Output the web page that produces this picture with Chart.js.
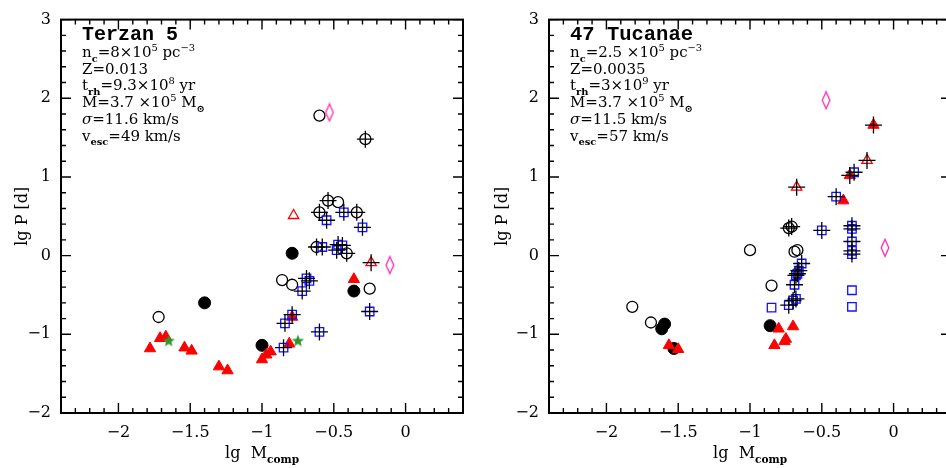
<!DOCTYPE html>
<html>
<head>
<meta charset="utf-8">
<script src="https://cdn.jsdelivr.net/npm/chart.js@4.4.1/dist/chart.umd.min.js"></script>
<style>
    html, body { margin: 0; padding: 0; background: #fff; overflow: hidden; width: 946px; height: 468px; }
    #left { position: absolute; left: 0; top: 0; }
    #right { position: absolute; left: 473px; top: 0; }
</style>
</head>
<body>
<canvas id="left" width="473" height="468"></canvas>
<canvas id="right" width="490" height="468"></canvas>
<script>
// --- DATI: Terzan 5 (x = lg Mcomp, y = lg P) ---
const terzanOpenCircles = [[-1.72, -0.78], [-0.60, 1.78], [-0.47, 0.68], [-0.86, -0.31], [-0.79, -0.37], [-0.25, -0.42]];
const terzanOpenCirclesCross = [[-0.28, 1.48], [-0.54, 0.70], [-0.60, 0.55], [-0.34, 0.55], [-0.62, 0.11], [-0.41, 0.03]];
const terzanFilledCircles = [[-1.40, -0.60], [-1.00, -1.14], [-0.79, 0.03], [-0.36, -0.45]];
const terzanTriangles = [[-1.78, -1.18], [-1.71, -1.05], [-1.67, -1.03], [-1.54, -1.17], [-1.49, -1.21], [-1.30, -1.41],
    [-1.24, -1.46], [-1.00, -1.32], [-0.97, -1.26], [-0.94, -1.22], [-0.81, -1.12], [-0.79, -0.78], [-0.36, -0.30]];
const terzanTrianglesCross = [];
const terzanOpenTriangles = [[-0.78, 0.51]];
const terzanOpenTrianglesCross = [[-0.24, -0.09]];
const terzanSquares = [];
const terzanSquaresCross = [[-0.55, 0.45], [-0.43, 0.55], [-0.30, 0.36], [-0.58, 0.11], [-0.47, 0.14], [-0.44, 0.13],
    [-0.48, 0.07], [-0.69, -0.29], [-0.67, -0.32], [-0.72, -0.45], [-0.79, -0.75], [-0.84, -0.86], [-0.85, -1.17],
    [-0.60, -0.97], [-0.25, -0.71]];
const terzanStars = [[-1.65, -1.08], [-0.75, -1.08]];
const terzanDiamonds = [[-0.53, 1.82], [-0.11, -0.12]];

// --- DATI: 47 Tucanae ---
const tucOpenCircles = [[-1.82, -0.65], [-1.69, -0.85], [-1.00, 0.07], [-0.85, -0.38], [-0.69, 0.05], [-0.67, 0.07]];
const tucOpenCirclesCross = [[-0.73, 0.35], [-0.71, 0.37]];
const tucFilledCircles = [[-1.595, -0.87], [-1.615, -0.93], [-1.53, -1.18], [-0.86, -0.89]];
const tucTriangles = [[-1.565, -1.14], [-1.50, -1.19], [-0.80, -0.93], [-0.70, -0.90], [-0.83, -1.14], [-0.76, -1.09],
    [-0.75, -1.06], [-0.35, 0.70]];
const tucTrianglesCross = [[-0.14, 1.66], [-0.305, 1.02]];
const tucOpenTriangles = [];
const tucOpenTrianglesCross = [[-0.185, 1.21], [-0.675, 0.87]];
const tucSquares = [[-0.85, -0.66], [-0.29, -0.44], [-0.29, -0.65]];
const tucSquaresCross = [[-0.275, 1.06], [-0.40, 0.75], [-0.50, 0.32], [-0.29, 0.38], [-0.29, 0.34], [-0.29, 0.18],
    [-0.29, 0.06], [-0.29, 0.02], [-0.64, -0.10], [-0.66, -0.19], [-0.67, -0.23], [-0.68, -0.25], [-0.69, -0.37],
    [-0.68, -0.55], [-0.70, -0.57], [-0.73, -0.63]];
const tucStars = [];
const tucDiamonds = [[-0.47, 1.975], [-0.06, 0.10]];

// assi
const xRange = [-2.4, 0.4];
const yRange = [-2, 3];

// testi (segmenti: [testo, 0=normale 1=pedice 2=apice, corsivo])
const terzanTitle = "Terzan 5";
const terzanLines = [
    [["n", 0], ["c", 1], ["=8×10", 0], ["5", 2], [" pc", 0], ["−3", 2]],
    [["Z=0.013", 0]],
    [["t", 0], ["rh", 1], ["=9.3×10", 0], ["8", 2], [" yr", 0]],
    [["M=3.7 ×10", 0], ["5", 2], [" M", 0], ["⊙", 1]],
    [["σ", 0, true], ["=11.6 km/s", 0]],
    [["v", 0], ["esc", 1], ["=49 km/s", 0]]
];
const tucTitle = "47 Tucanae";
const tucLines = [
    [["n", 0], ["c", 1], ["=2.5 ×10", 0], ["5", 2], [" pc", 0], ["−3", 2]],
    [["Z=0.0035", 0]],
    [["t", 0], ["rh", 1], ["=3×10", 0], ["9", 2], [" yr", 0]],
    [["M=3.7 ×10", 0], ["5", 2], [" M", 0], ["⊙", 1]],
    [["σ", 0, true], ["=11.5 km/s", 0]],
    [["v", 0], ["esc", 1], ["=57 km/s", 0]]
];

const SERIF = '"DejaVu Serif"';

// --- marker personalizzati ---
function makeStar(color) {
    const c = document.createElement("canvas");
    c.width = 14; c.height = 14;
    const g = c.getContext("2d");
    g.fillStyle = color;
    g.beginPath();
    for (let i = 0; i < 10; i++) {
        const r = i % 2 === 0 ? 6.5 : 2.8;
        const a = -Math.PI / 2 + i * Math.PI / 5;
        g.lineTo(7 + r * Math.cos(a), 7.5 + r * Math.sin(a));
    }
    g.closePath();
    g.fill();
    return c;
}

function makeDiamond(color) {
    const c = document.createElement("canvas");
    c.width = 10; c.height = 20;
    const g = c.getContext("2d");
    g.strokeStyle = color;
    g.lineWidth = 1.3;
    g.beginPath();
    g.moveTo(5, 1.5); g.lineTo(8.8, 10); g.lineTo(5, 18.5); g.lineTo(1.2, 10);
    g.closePath();
    g.stroke();
    return c;
}

const starImg = makeStar("#2f962f");
const diamondImg = makeDiamond("#ff2aa8");

function pts(list) {
    return list.map(([x, y]) => ({ x, y }));
}

function buildDatasets(d) {
    const crossed = [...d.openCircX, ...d.triX, ...d.triOpenX, ...d.squareX];
    return [
        { data: pts(crossed), pointStyle: 'cross', pointRadius: 8.5, borderColor: '#000', borderWidth: 1.3 },
        { data: pts(d.diamond), pointStyle: diamondImg },
        { data: pts(d.star), pointStyle: starImg },
        { data: pts([...d.square, ...d.squareX]), pointStyle: 'rect', pointRadius: 6, borderColor: '#1010ff', borderWidth: 1.3, backgroundColor: 'rgba(0,0,0,0)' },
        { data: pts([...d.triOpen, ...d.triOpenX]), pointStyle: 'triangle', pointRadius: 6, borderColor: '#ff0000', borderWidth: 1.3, backgroundColor: 'rgba(0,0,0,0)' },
        { data: pts([...d.tri, ...d.triX]), pointStyle: 'triangle', pointRadius: 6.5, borderColor: '#ff0000', borderWidth: 1, backgroundColor: '#ff0000' },
        { data: pts(d.filledCirc), pointStyle: 'circle', pointRadius: 6, borderColor: '#000', borderWidth: 1, backgroundColor: '#000' },
        { data: pts([...d.openCirc, ...d.openCircX]), pointStyle: 'circle', pointRadius: 5.5, borderColor: '#000', borderWidth: 1.3, backgroundColor: 'rgba(0,0,0,0)' }
    ];
}

function drawRich(ctx, x, y, segs, size) {
    segs.forEach(([t, mode, italic]) => {
        let fs = size, dy = 0, weight = "";
        if (mode === 1) { fs = size * 0.66; dy = size * 0.3; weight = "bold "; }
        if (mode === 2) { fs = size * 0.66; dy = -size * 0.42; }
        ctx.font = `${italic ? "italic " : ""}${weight}${fs}px ${SERIF}`;
        ctx.fillText(t, x, y + dy);
        x += ctx.measureText(t).width;
    });
}

// cornice, tacche interne, testi e titoli degli assi
const panelPlugin = {
    id: 'panel',
    afterDraw(chart, args, opts) {
        const { ctx, chartArea: a, scales: { x, y } } = chart;
        ctx.save();
        ctx.strokeStyle = '#000';
        ctx.lineWidth = 1.4;
        ctx.beginPath();
        x.ticks.forEach(t => {
            const px = x.getPixelForValue(t.value);
            const k = Math.round(t.value * 10);
            const len = k % 5 === 0 ? 10 : 5;
            ctx.moveTo(px, a.bottom); ctx.lineTo(px, a.bottom - len);
            ctx.moveTo(px, a.top); ctx.lineTo(px, a.top + len);
        });
        y.ticks.forEach(t => {
            const py = y.getPixelForValue(t.value);
            const k = Math.round(t.value * 10);
            const len = k % 10 === 0 ? 10 : 5;
            ctx.moveTo(a.left, py); ctx.lineTo(a.left + len, py);
            ctx.moveTo(a.right, py); ctx.lineTo(a.right - len, py);
        });
        ctx.stroke();
        ctx.lineWidth = 2;
        ctx.strokeRect(a.left, a.top, a.right - a.left, a.bottom - a.top);

        // testo informativo
        ctx.fillStyle = '#000';
        ctx.textBaseline = 'alphabetic';
        ctx.textAlign = 'left';
        const tx = a.left + 21;
        ctx.font = `bold ${opts.titleSize}px "Liberation Mono"`;
        ctx.fillText(opts.title, tx, 40);
        opts.lines.forEach((segs, i) => drawRich(ctx, tx, 57 + i * 16.7, segs, 15));

        // titolo asse x
        ctx.font = `16px ${SERIF}`;
        const w1 = ctx.measureText("lg  M").width;
        ctx.font = `bold 10.5px ${SERIF}`;
        const w2 = ctx.measureText("comp").width;
        const cx = (a.left + a.right) / 2 - (w1 + w2) / 2;
        drawRich(ctx, cx, 458, [["lg  M", 0], ["comp", 1]], 16);

        // titolo asse y
        ctx.translate(opts.yTitleX, (a.top + a.bottom) / 2);
        ctx.rotate(-Math.PI / 2);
        ctx.textAlign = 'center';
        ctx.textBaseline = 'middle';
        ctx.font = `16px ${SERIF}`;
        ctx.fillText("lg P [d]", 0, 0);
        ctx.restore();
    }
};

function makeChart(canvasId, d, padLeft, padRight, title, titleSize, lines, yTitleX) {
    const ctx = document.getElementById(canvasId).getContext('2d');
    return new Chart(ctx, {
        type: 'scatter',
        data: { datasets: buildDatasets(d) },
        options: {
            responsive: false,
            animation: false,
            events: [],
            layout: { padding: { left: padLeft, right: padRight, top: 13, bottom: 0 } },
            plugins: {
                legend: { display: false },
                tooltip: { enabled: false },
                panel: { title, titleSize, lines, yTitleX }
            },
            scales: {
                x: {
                    type: 'linear',
                    min: xRange[0], max: xRange[1],
                    grid: { display: false, drawTicks: false },
                    border: { display: false },
                    afterFit: s => { s.height = 55; },
                    ticks: {
                        stepSize: 0.1, autoSkip: false, maxRotation: 0, padding: 10,
                        color: '#000', font: { family: 'DejaVu Serif', size: 16 },
                        callback: v => {
                            const k = Math.round(v * 10);
                            if (k % 5 !== 0) return '';
                            return String(k / 10).replace('-', '−');
                        }
                    }
                },
                y: {
                    type: 'linear',
                    min: yRange[0], max: yRange[1],
                    grid: { display: false, drawTicks: false },
                    border: { display: false },
                    afterFit: s => { s.width = 50; },
                    ticks: {
                        stepSize: 0.2, autoSkip: false, padding: 10,
                        color: '#000', font: { family: 'DejaVu Serif', size: 16 },
                        callback: v => {
                            const k = Math.round(v * 10);
                            if (k % 10 !== 0) return '';
                            return String(k / 10).replace('-', '−');
                        }
                    }
                }
            }
        },
        plugins: [panelPlugin]
    });
}

makeChart('left', {
    openCirc: terzanOpenCircles, openCircX: terzanOpenCirclesCross, filledCirc: terzanFilledCircles,
    tri: terzanTriangles, triX: terzanTrianglesCross, triOpen: terzanOpenTriangles, triOpenX: terzanOpenTrianglesCross,
    square: terzanSquares, squareX: terzanSquaresCross, star: terzanStars, diamond: terzanDiamonds
}, 11, 10, terzanTitle, 20, terzanLines, 23);

makeChart('right', {
    openCirc: tucOpenCircles, openCircX: tucOpenCirclesCross, filledCirc: tucFilledCircles,
    tri: tucTriangles, triX: tucTrianglesCross, triOpen: tucOpenTriangles, triOpenX: tucOpenTrianglesCross,
    square: tucSquares, squareX: tucSquaresCross, star: tucStars, diamond: tucDiamonds
}, 26, 12, tucTitle, 20.5, tucLines, 30);
</script>
</body>
</html>
